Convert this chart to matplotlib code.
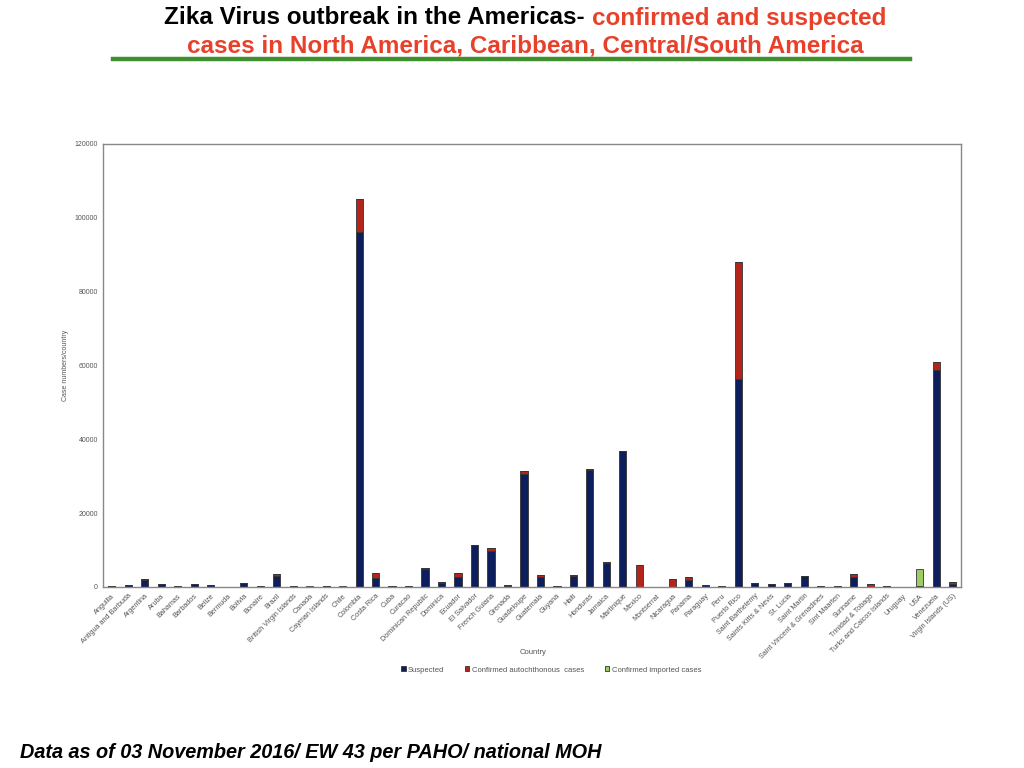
import matplotlib
matplotlib.use("Agg")
import matplotlib.pyplot as plt
from matplotlib import font_manager
import numpy as np

countries = ["Anguilla", "Antigua and Barbuda", "Argentina", "Aruba", "Bahamas", "Barbados",
             "Belize", "Bermuda", "Bolivia", "Bonaire", "Brazil", "British Virgin Islands",
             "Canada", "Cayman Islands", "Chile", "Colombia", "Costa Rica", "Cuba", "Curacao",
             "Dominican Republic", "Dominica", "Ecuador", "El Salvador", "French Guiana",
             "Grenada", "Guadeloupe", "Guatemala", "Guyana", "Haiti", "Honduras", "Jamaica",
             "Martinique", "Mexico", "Montserrat", "Nicaragua", "Panama", "Paraguay", "Peru",
             "Puerto Rico", "Saint Barthelemy", "Saints Kitts & Nevis", "St. Lucia",
             "Saint Martin", "Saint Vincent & Grenadines", "Sint Maarten", "Suriname",
             "Trinidad & Tobago", "Turks and Caicos Islands", "Uruguay", "USA", "Venezuela",
             "Virgin Islands (US)"]

suspected = [150, 600, 2000, 780, 150, 780,
             600, 0, 950, 0, 2900, 100,
             0, 300, 0, 96200, 2500, 100, 0,
             4900, 1200, 2700, 11400, 9750,
             400, 30700, 2650, 50, 3000, 31600, 6600,
             36800, 0, 0, 0, 2000, 600, 200,
             56300, 950, 700, 950,
             2950, 350, 350, 2700,
             0, 400, 0, 0, 58800,
             800]

confirmed_auto = [0, 0, 100, 0, 0, 0,
                  0, 0, 50, 150, 550, 80,
                  0, 30, 0, 8800, 1400, 50, 200,
                  250, 80, 1050, 100, 800,
                  50, 600, 600, 150, 200, 350, 150,
                  100, 5950, 20, 2150, 600, 0, 50,
                  31700, 50, 0, 50,
                  0, 0, 0, 800,
                  750, 0, 0, 140, 2240,
                  600]

confirmed_imported = [0, 0, 0, 0, 50, 0,
                      0, 100, 0, 0, 0, 0,
                      250, 0, 150, 0, 0, 100, 0,
                      0, 0, 0, 0, 0,
                      0, 0, 0, 0, 0, 0, 0,
                      0, 0, 0, 0, 0, 0, 0,
                      80, 0, 0, 0,
                      0, 0, 0, 0,
                      0, 0, 100, 4650, 0,
                      0]

series_labels = ["Suspected", "Confirmed autochthonous  cases", "Confirmed imported cases"]
yticks = [0, 20000, 40000, 60000, 80000, 100000, 120000]

available = {f.name for f in font_manager.fontManager.ttflist}
narrow = "Liberation Sans Narrow" if "Liberation Sans Narrow" in available else "Liberation Sans"
plt.rcParams['font.family'] = ['Liberation Sans', 'DejaVu Sans']

fig = plt.figure(figsize=(10.24, 7.68), dpi=100)
ax = fig.add_axes([0.101, 0.2357, 0.8375, 0.5768])

x = np.arange(len(countries))
s = np.array(suspected, dtype=float)
a = np.array(confirmed_auto, dtype=float)
im = np.array(confirmed_imported, dtype=float)
w = 0.43
ec = "#333333"
ax.bar(x, s, w, color="#0c1f5c", edgecolor=ec, linewidth=0.6, label=series_labels[0])
ax.bar(x, a, w, bottom=s, color="#b3251a", edgecolor=ec, linewidth=0.6, label=series_labels[1])
ax.bar(x, im, w, bottom=s + a, color="#9dcc63", edgecolor=ec, linewidth=0.6, label=series_labels[2])

ax.set_xlim(-0.5, len(countries) - 0.5)
ax.set_ylim(0, 120000)
ax.set_yticks(yticks)
ax.set_yticklabels([str(v) for v in yticks], fontsize=5, color="#555555")
ax.set_xticks(x)
ax.set_xticklabels(countries, rotation=45, ha="right", rotation_mode="anchor",
                   fontsize=5.2, color="#555555")
ax.tick_params(axis="both", length=0, pad=4)
for sp in ax.spines.values():
    sp.set_color("#888888")
    sp.set_linewidth(1.0)

ax.set_ylabel("Case numbers/country", fontsize=5, color="#555555", labelpad=4)
fig.text(533 / 1024, 1 - 653 / 768, "Country", fontsize=5.5, color="#555555",
         ha="center", va="center")

leg = fig.legend(loc="center", bbox_to_anchor=(551 / 1024, 1 - 670 / 768), ncol=3,
                 frameon=False, fontsize=5.5, handlelength=0.6, handleheight=0.6,
                 columnspacing=2.7, handletextpad=0.3)
for t in leg.get_texts():
    t.set_color("#555555")

# Title with two colours
renderer = fig.canvas.get_renderer()
tsize = 17.5
t1a = fig.text(0, 0, "Zika Virus outbreak in the Americas- ", fontsize=tsize, fontweight="bold",
               family=[narrow, 'DejaVu Sans'], color="black", va="center", ha="left")
t1b = fig.text(0, 0, "confirmed and suspected", fontsize=tsize, fontweight="bold",
               family=[narrow, 'DejaVu Sans'], color="#e8412b", va="center", ha="left")
w1 = t1a.get_window_extent(renderer).width
w2 = t1b.get_window_extent(renderer).width
cx = 525
start = cx - (w1 + w2) / 2
y1 = 1 - 18 / 768
t1a.set_position((start / 1024, y1))
t1b.set_position(((start + w1) / 1024, y1))
fig.text(cx / 1024, 1 - 46 / 768, "cases in North America, Caribbean, Central/South America",
         fontsize=tsize, fontweight="bold", family=[narrow, 'DejaVu Sans'], color="#e8412b",
         va="center", ha="center")

fig.add_artist(plt.Line2D([113 / 1024, 910 / 1024], [1 - 58.5 / 768, 1 - 58.5 / 768],
                          color="#3f8f2f", linewidth=3.2, transform=fig.transFigure))

fig.text(20 / 1024, 1 - 752 / 768, "Data as of 03 November 2016/ EW 43 per PAHO/ national MOH",
         fontsize=14.3, fontweight="bold", style="italic", color="black", va="center", ha="left")

fig.savefig("out.png", dpi=100)
